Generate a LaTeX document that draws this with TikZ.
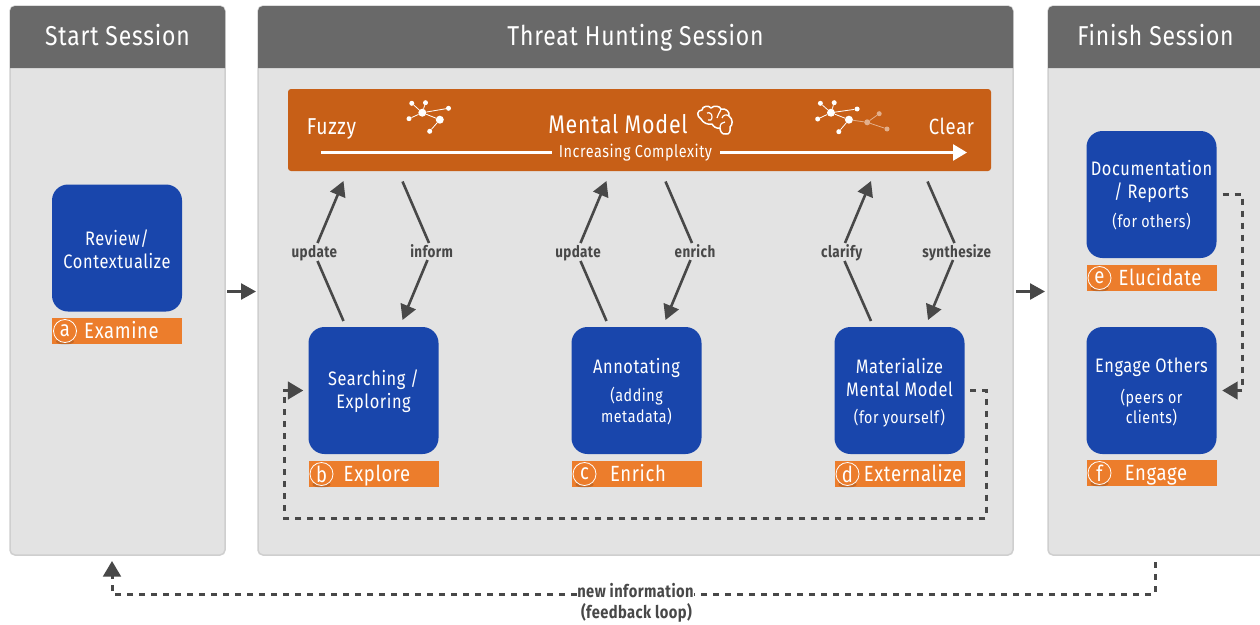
\documentclass[tikz,border=0pt]{standalone}
\usepackage{fontspec}
\setmainfont{Fira Sans}[FakeStretch=0.84,LetterSpace=3]
\newfontfamily\labelfont{Fira Sans}[FakeStretch=0.84,LetterSpace=2.5]
\usetikzlibrary{arrows.meta}
\definecolor{panelfill}{HTML}{E3E3E3}
\definecolor{panelline}{HTML}{CFCFCF}
\definecolor{headfill}{HTML}{696969}
\definecolor{barfill}{HTML}{C75F17}
\definecolor{boxfill}{HTML}{1946AC}
\definecolor{tagfill}{HTML}{EC7D2C}
\definecolor{inkgray}{HTML}{484848}
\newcommand{\fs}[2]{\fontsize{#1}{#2}\selectfont}
\newcommand{\subt}[1]{{\fs{17}{20}#1}}
\tikzset{
  panel/.style={fill=panelfill,draw=panelline,line width=1.5pt,rounded corners=5pt},
  headtext/.style={text=white,font=\fs{27.3}{30},anchor=base,inner sep=0pt},
  bluebox/.style={fill=boxfill,rounded corners=16pt,minimum width=130pt,minimum height=127pt,inner sep=0pt},
  boxtext/.style={text=white,align=center,font=\fs{19.5}{23},inner sep=0pt},
  tagbox/.style={fill=tagfill,minimum width=130pt,minimum height=26pt,inner sep=0pt},
  tagtext/.style={text=white,font=\fs{22}{24},inner sep=0pt,anchor=base},
  badge/.style={circle,draw=white,line width=.8pt,fill=tagfill,minimum size=23pt,inner sep=0pt,text=white,font=\fs{22}{24}},
  flow/.style={draw=inkgray,line width=2.6pt},
  tip/.style={-{Triangle[length=15pt,width=16pt]}},
  looptip/.style={-{Triangle[length=15.5pt,width=17.5pt]}},
  gapline/.style={draw=inkgray,line width=3pt,dash pattern=on 6pt off 6pt},
  linklabel/.style={text=inkgray,font=\labelfont\bfseries\fs{16}{20},inner sep=0pt,anchor=base},
  looplabel/.style={text=inkgray,font=\labelfont\bfseries\fs{17.5}{20},inner sep=0pt,anchor=base},
  barlabel/.style={text=white,inner sep=0pt,anchor=base},
  netdot/.style={circle,fill=white,inner sep=0pt,minimum size=#1},
  fadedot/.style={circle,fill=white,fill opacity=.5,inner sep=0pt,minimum size=#1},
  netline/.style={draw=white,line width=.8pt},
}
\newcommand{\tagged}[6]{% name, box centre x, tag centre y, letter, label x, label
  \node[tagbox] (#1tag) at (#2,#3) {};
  \fill[black,opacity=.16] (#2-52,#3+10.5) ellipse [x radius=9pt,y radius=3pt];
  \node[badge] (#1badge) at (#2-52,#3) {#4};
  \node[tagtext] (#1label) at (#5,#3+7) {#6};
}
\newcommand{\bbox}[5]{% name, x, y, text centre y, text
  \node[bluebox] (#1) at (#2,#3) {};
  \node[boxtext] (#1text) at (#2,#4) {\strut #5\strut};
}
\begin{document}
\begin{tikzpicture}[x=1pt,y=-1pt]
\useasboundingbox (0,0) rectangle (1260,624);
\fill[white] (0,0) rectangle (1260,624);
\clip (0,0) rectangle (1260,624);
% panels
\path[panel] (10,6) rectangle (225,555);
\path[panel] (258,6) rectangle (1013,555);
\path[panel] (1048,6) rectangle (1280,555);
\fill[headfill] (10,68) [rounded corners=5pt] -- (10,6) -- (225,6) [sharp corners] -- (225,68) -- cycle;
\fill[headfill] (258,68) [rounded corners=5pt] -- (258,6) -- (1013,6) [sharp corners] -- (1013,68) -- cycle;
\fill[headfill] (1048,68) [rounded corners=5pt] -- (1048,6) -- (1280,6) [sharp corners] -- (1280,68) -- cycle;
\node[headtext] (starthead) at (117.5,45) {Start Session};
\node[headtext] (huntinghead) at (635.5,45) {Threat Hunting Session};
\node[headtext] (finishhead) at (1155.5,45) {Finish Session};
% mental model bar
\node[fill=barfill,rounded corners=3pt,minimum width=703pt,minimum height=82pt,inner sep=0pt] (bar) at (639.5,130) {};
\node[barlabel,font=\fs{23}{24}] (fuzzy) at (331.5,134.5) {Fuzzy};
\node[barlabel,font=\fs{22}{24}] (clear) at (951.5,134.5) {Clear};
\node[barlabel,font=\fs{25.5}{28}] (mental) at (618,133) {Mental Model};
\node[barlabel,font=\fs{17.2}{20}] (complex) at (635.5,157) {Increasing Complexity};
\coordinate (cl) at (321,152.5);
\coordinate (cm) at (552,152.5);
\coordinate (cn) at (720,152.5);
\coordinate (cr) at (967,152.5);
\draw[draw=white,line width=2.6pt] (cl) -- (cm);
\draw[draw=white,line width=2.6pt,-{Triangle[length=14pt,width=16pt]}] (cn) -- (cr);
% brain
\draw[white,line width=1.5pt,line join=round] (701,119) .. controls (696,116) and (697,110) .. (702,110) .. controls (702,106) and (709,105) .. (711,108) .. controls (714,105) and (720,106) .. (721,109) .. controls (726,108) and (730,112) .. (729,116) .. controls (733,119) and (733,125) .. (730,127) .. controls (731,131) and (729,135) .. (726,134) .. controls (722,135) and (720,131) .. (720,128) .. controls (716,129) and (713,126) .. (712,124) .. controls (708,125) and (703,123) .. (701,119);
\draw[white,line width=1.2pt] (707,113) .. controls (710,112) and (712,114) .. (712,117) (712,117) .. controls (712,120) and (710,121) .. (708,120) (721,109) .. controls (720,113) and (717,115) .. (717,118) (720,128) .. controls (720,124) and (722,122) .. (725,122) (729,116) .. controls (726,114) and (723,115) .. (722,118);
% left network
\node[netdot=8pt] (la) at (422.3,112.7) {};
\node[netdot=8pt] (lb) at (439.8,119.7) {};
\node[netdot=5pt] (lc) at (411.8,103.3) {};
\node[netdot=5pt] (ld) at (425.5,102.7) {};
\node[netdot=5pt] (le) at (448.5,108.3) {};
\node[netdot=5pt] (lf) at (409,118.7) {};
\node[netdot=5pt] (lg) at (429.7,131.3) {};
\draw[netline] (la)--(lb) (la)--(lc) (la)--(ld) (la)--(le) (la)--(lf) (lb)--(lg);
% right network
\node[netdot=8pt] (ra) at (831,112.7) {};
\node[netdot=8pt] (rb) at (848.9,119.7) {};
\node[netdot=5pt] (rc) at (820.4,103.3) {};
\node[netdot=5pt] (rd) at (834.2,102.7) {};
\node[netdot=5pt] (re) at (857.1,109) {};
\node[netdot=5pt] (rf) at (817.7,119) {};
\node[netdot=5pt] (rg) at (838.8,131.7) {};
\node[fadedot=6pt] (rh) at (867.2,122.3) {};
\node[fadedot=5pt] (ri) at (879.2,113.7) {};
\node[fadedot=5pt] (rj) at (887,129) {};
\draw[netline] (ra)--(rb) (ra)--(rc) (ra)--(rd) (ra)--(re) (ra)--(rf) (rb)--(rg);
\draw[netline,opacity=.5] (rb)--(rh) (rh)--(ri) (rh)--(rj);
% blue boxes
\bbox{review}{117}{248}{252.8}{Review/\\Contextualize}
\bbox{search}{373.5}{390.5}{392.5}{Searching /\\Exploring}
\bbox{annot}{636.5}{390.5}{393.5}{Annotating\\[5.4pt]\subt{(adding}\\[-1.7pt]\subt{metadata)}}
\bbox{mater}{899.5}{390.5}{393.5}{Materialize\\Mental Model\\[4pt]\subt{(for yourself)}}
\bbox{docs}{1151.5}{194.5}{197}{Documentation\\/ Reports\\[5.5pt]\subt{(for others)}}
\bbox{others}{1151.5}{390.5}{393.4}{Engage Others\\[7.7pt]\subt{(peers or}\\[-2.3pt]\subt{clients)}}
% tags
\tagged{a}{117}{331}{a}{121.5}{Examine}
\tagged{b}{373.5}{474}{b}{377}{Explore}
\tagged{c}{636.5}{474}{c}{638}{Enrich}
\tagged{d}{899.5}{474}{d}{913}{Externalize}
\tagged{e}{1151.5}{278}{e}{1160}{Elucidate}
\tagged{f}{1151.5}{473}{f}{1156}{Engage}
% link labels
\node[linklabel] (l1) at (314.3,257) {update};
\node[linklabel] (l2) at (431.7,257) {inform};
\node[linklabel] (l3) at (578,257) {update};
\node[linklabel] (l4) at (695,257) {enrich};
\node[linklabel] (l5) at (841.7,257) {clarify};
\node[linklabel] (l6) at (956.7,257) {synthesize};
% arrow ends
\coordinate (s1) at (343.5,321); \coordinate (t1) at (343.5,181);
\coordinate (s2) at (402.5,181.5); \coordinate (t2) at (402.5,320);
\coordinate (s3) at (606.5,321); \coordinate (t3) at (606.5,181);
\coordinate (s4) at (665.5,181.5); \coordinate (t4) at (665.5,320);
\coordinate (s5) at (871,321); \coordinate (t5) at (871,181);
\coordinate (s6) at (927.5,181.5); \coordinate (t6) at (928,320);
\draw[flow] (s1) -- (317.5,261); \draw[flow,tip] (317.5,243) -- (t1);
\draw[flow] (s2) -- (429,243); \draw[flow,tip] (427.5,260) -- (t2);
\draw[flow] (s3) -- (580.5,261); \draw[flow,tip] (580.5,243) -- (t3);
\draw[flow] (s4) -- (692,243); \draw[flow,tip] (690.5,260) -- (t4);
\draw[flow] (s5) -- (844.5,261); \draw[flow,tip] (845,243) -- (t5);
\draw[flow] (s6) -- (954.5,243); \draw[flow,tip] (953,260) -- (t6);
% between panels
\coordinate (m1) at (227,291.5); \coordinate (m2) at (256,291.5);
\coordinate (m3) at (1016,291.5); \coordinate (m4) at (1045,291.5);
\draw[flow,tip] (m1) -- (m2);
\draw[flow,tip] (m3) -- (m4);
% labels of the feedback loop
\node[looplabel] (newinfo) at (635.5,597) {new information};
\node[looplabel] (fbloop) at (636.5,618) {(feedback loop)};
% dashed routes
\draw[gapline,looptip] ([xshift=5.5pt]mater.east) -- (986,390.5) -- (986,518) -- (284.5,518) -- (284.5,390.5) -- ([xshift=-5pt]search.west);
\draw[gapline,looptip] ([xshift=6pt]docs.east) -- (1242.5,194.5) -- (1242.5,390.5) -- ([xshift=5.5pt]others.east);
\coordinate (fbs) at (1155,562);
\coordinate (fbt) at (112,561);
\draw[gapline] (fbs) -- (1155,594) -- (newinfo.east |- 0,594);
\draw[gapline,looptip] (newinfo.west |- 0,594) -- (112,594) -- (fbt);
\end{tikzpicture}
\end{document}
